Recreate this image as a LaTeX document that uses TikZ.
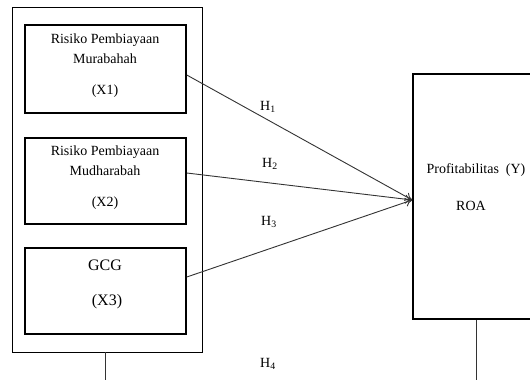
\documentclass[tikz,border=0pt]{standalone}
\usepackage{fontspec}
\setmainfont{Liberation Serif}
\usetikzlibrary{arrows.meta}
\begin{document}
\begin{tikzpicture}[x=1pt,y=-1pt,
  box/.style={draw,line width=1.6pt,inner sep=0pt},
  outerbox/.style={draw,line width=0.8pt,inner sep=0pt},
  lbl/.style={inner sep=0pt,font=\fontsize{14}{16}\selectfont},
  big/.style={inner sep=0pt,font=\fontsize{16}{18}\selectfont},
  link/.style={line width=0.9pt,draw=black!80},
  arr/.style={link,-{To[length=7pt,width=9pt]}}]
\clip (0,0) rectangle (530,380);
\fill[white] (0,0) rectangle (530,380);
% outer grouping box
\node[outerbox,minimum width=190pt,minimum height=345pt] (outer) at (107,179.5) {};
% independent variable boxes
\node[box,minimum width=161pt,minimum height=88pt] (b1) at (105.5,69) {};
\node[box,minimum width=161pt,minimum height=86pt] (b2) at (105.5,181) {};
\node[box,minimum width=161pt,minimum height=86pt] (b3) at (105.5,291) {};
% dependent variable box
\node[box,minimum width=126pt,minimum height=245pt] (y) at (476,196.5) {};
% texts
\node[lbl] (t1a) at (105,40) {Risiko Pembiayaan};
\node[lbl] (t1b) at (105,59) {Murabahah};
\node[lbl] (t1c) at (105,91) {(X1)};
\node[lbl] (t2a) at (105,152) {Risiko Pembiayaan};
\node[lbl] (t2b) at (105,171) {Mudharabah};
\node[lbl] (t2c) at (105,203) {(X2)};
\node[big] (t3a) at (105,265) {GCG};
\node[big] (t3b) at (107,302) {(X3)};
\node[lbl] (ty1) at (476,170) {Profitabilitas\ \ (Y)};
\node[lbl] (ty2) at (471,206) {ROA};
% hypothesis labels
\node[lbl] (h1) at (268,107) {H\textsubscript{1}};
\node[lbl] (h2) at (270,164) {H\textsubscript{2}};
\node[lbl] (h3) at (269,222) {H\textsubscript{3}};
\node[lbl] (h4) at (268,364) {H\textsubscript{4}};
% connectors
\coordinate (tgt) at ([yshift=-3.5pt]y.west);
\draw[arr] ([yshift=-6pt]b1.east) -- (tgt);
\draw[arr] ([yshift=8pt]b2.east) -- (tgt);
\draw[arr] ([yshift=14pt]b3.east) -- (tgt);
\coordinate (e1) at (105,390);
\coordinate (e2) at (476,390);
\draw[link] ([xshift=-2pt]outer.south) -- (e1);
\draw[link] (y.south) -- (e2);
\end{tikzpicture}
\end{document}
